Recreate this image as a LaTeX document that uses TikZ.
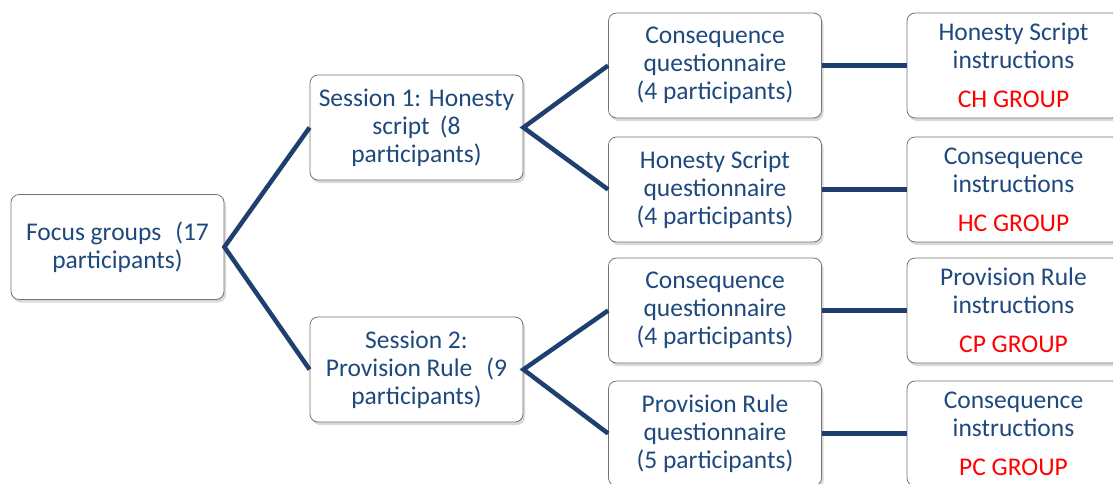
\documentclass[tikz,border=0pt]{standalone}
\usepackage{fontspec}
\setmainfont{Carlito}
\usetikzlibrary{shadows}
\definecolor{txtblue}{HTML}{1F497D}
\definecolor{lineblue}{HTML}{1F3F6E}
\tikzset{
  box/.style={draw=black!55, line width=0.8pt, fill=white, rounded corners=8pt,
    minimum width=213pt, minimum height=105pt, inner sep=0pt,
    align=center, text=txtblue, font=\fontsize{25.5}{28}\selectfont,
    drop shadow={shadow xshift=2pt, shadow yshift=-3pt, opacity=0.3}},
  link/.style={lineblue, line width=4.5pt}
}
\newcommand{\grp}[1]{\\[11pt]\textcolor{red}{#1}}

\begin{document}
\begin{tikzpicture}[x=1pt,y=-1pt]
    \useasboundingbox (0,0) rectangle (1113,483);
    \node[box] (focus) at (117.5,247) {Focus groups\hspace{0.55em}(17\\participants)};
    \node[box] (s1) at (416.5,127.5) {Session 1: Honesty\\script\hspace{0.4em}(8\\participants)};
    \node[box] (s2) at (416.5,369.5) {Session 2:\\Provision Rule\hspace{0.55em}(9\\participants)};
    \node[box] (q1) at (715,65.5) {Consequence\\questionnaire\\(4 participants)};
    \node[box] (q2) at (715,189.5) {Honesty Script\\questionnaire\\(4 participants)};
    \node[box] (q3) at (715,310.5) {Consequence\\questionnaire\\(4 participants)};
    \node[box] (q4) at (715,433.5) {Provision Rule\\questionnaire\\(5 participants)};
    \node[box] (i1) at (1013.5,65.5) {Honesty Script\\instructions\grp{CH GROUP}};
    \node[box] (i2) at (1013.5,189.5) {Consequence\\instructions\grp{HC GROUP}};
    \node[box] (i3) at (1013.5,310.5) {Provision Rule\\instructions\grp{CP GROUP}};
    \node[box] (i4) at (1013.5,433.5) {Consequence\\instructions\grp{PC GROUP}};
    \draw[link] (s1.west) -- (focus.east) -- (s2.west);
    \draw[link] (q1.west) -- (s1.east) -- (q2.west);
    \draw[link] (q3.west) -- (s2.east) -- (q4.west);
    \draw[link] (q1) -- (i1);
    \draw[link] (q2) -- (i2);
    \draw[link] (q3) -- (i3);
    \draw[link] (q4) -- (i4);
\end{tikzpicture}
\end{document}
